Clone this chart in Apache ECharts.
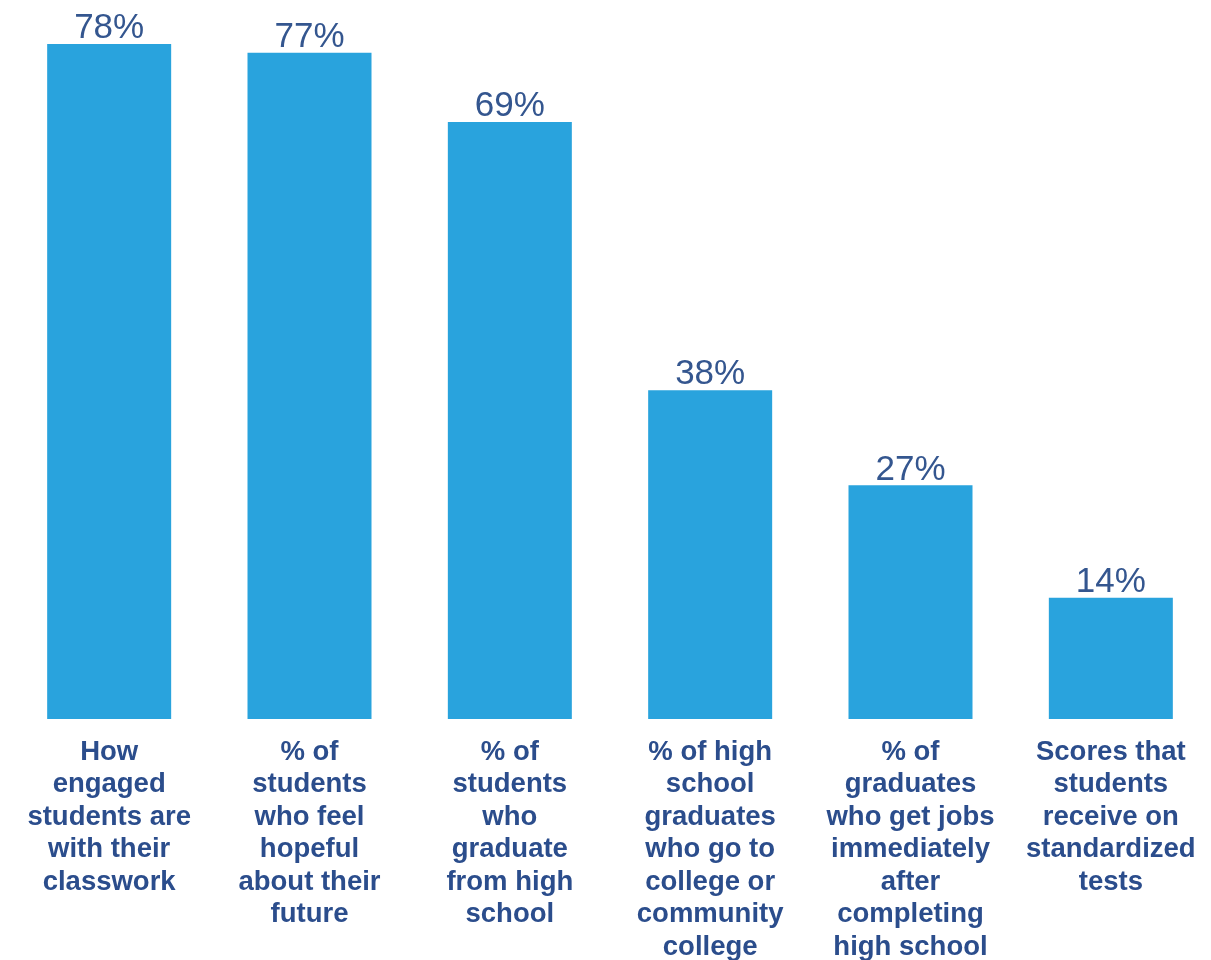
<!DOCTYPE html>
<html>
<head>
<meta charset="utf-8">
<script src="https://cdn.jsdelivr.net/npm/echarts@6/dist/echarts.min.js"></script>
<style>
  html, body { margin: 0; padding: 0; background: #fff; }
  #chart { width: 1211px; height: 960px; }
</style>
</head>
<body>
<div id="chart"></div>
<script>
var categories = [
  'How\nengaged\nstudents are\nwith their\nclasswork',
  '% of\nstudents\nwho feel\nhopeful\nabout their\nfuture',
  '% of\nstudents\nwho\ngraduate\nfrom high\nschool',
  '% of high\nschool\ngraduates\nwho go to\ncollege or\ncommunity\ncollege',
  '% of\ngraduates\nwho get jobs\nimmediately\nafter\ncompleting\nhigh school',
  'Scores that\nstudents\nreceive on\nstandardized\ntests'
]
var values = [78, 77, 69, 38, 27, 14]

var chart = echarts.init(document.getElementById('chart'))
chart.setOption({
  animation: false,
  grid: {
    left: 9,
    right: 0,
    top: 44,
    bottom: 241,
    containLabel: false,
    outerBoundsMode: 'none'
  },
  xAxis: {
    type: 'category',
    data: categories,
    axisLine: { show: false },
    axisTick: { show: false },
    axisLabel: {
      interval: 0,
      margin: 17,
      color: '#2b4d8c',
      fontFamily: 'Liberation Sans, Arial, sans-serif',
      fontWeight: 'bold',
      fontSize: 27.5,
      lineHeight: 32.5
    }
  },
  yAxis: {
    type: 'value',
    min: 0,
    max: 78,
    show: false,
    splitLine: { show: false }
  },
  series: [
    {
      type: 'bar',
      data: values,
      barWidth: 124,
      itemStyle: { color: '#29a3dd' },
      label: {
        show: true,
        position: 'top',
        distance: -2,
        formatter: '{c}%',
        color: '#34568f',
        fontFamily: 'Liberation Sans, Arial, sans-serif',
        fontSize: 35
      }
    }
  ]
})
</script>
</body>
</html>
